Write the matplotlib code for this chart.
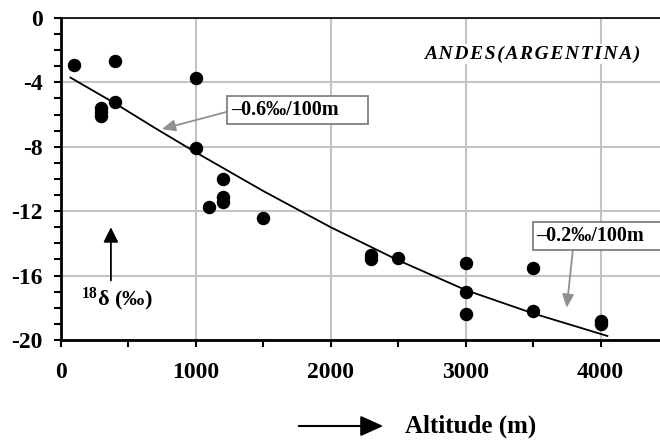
import matplotlib
matplotlib.use('Agg')
import matplotlib.pyplot as plt
from matplotlib.ticker import MultipleLocator
from matplotlib.patches import FancyArrowPatch, Rectangle

# measured samples
altitude = [100, 300, 300, 300, 400, 400, 1000, 1000, 1100, 1200, 1200, 1200,
            1500, 2300, 2300, 2500, 3000, 3000, 3000, 3500, 3500, 4000, 4000]
delta18 = [-2.9, -5.6, -5.85, -6.1, -2.7, -5.2, -3.7, -8.1, -11.75, -10.0, -11.1, -11.4,
           -12.4, -14.7, -15.0, -14.9, -15.2, -17.0, -18.4, -15.5, -18.2, -18.8, -19.0]

# trend curve
trend_x = [70, 400, 700, 1000, 1500, 2000, 2500, 3000, 3500, 4050]
trend_y = [-3.7, -5.3, -6.85, -8.35, -10.75, -13.0, -15.05, -16.9, -18.35, -19.75]

xticks = [0, 1000, 2000, 3000, 4000]
yticks = [0, -4, -8, -12, -16, -20]

plt.rcParams['font.family'] = 'Liberation Serif'
plt.rcParams['font.weight'] = 'bold'
plt.rcParams['axes.unicode_minus'] = False
plt.rcParams['mathtext.fontset'] = 'custom'
plt.rcParams['mathtext.rm'] = 'Liberation Serif:bold'
plt.rcParams['mathtext.default'] = 'rm'

fig = plt.figure(figsize=(6.6, 4.4), dpi=100)
ax = fig.add_axes([0.0924, 0.2273, 0.9076, 0.7318])

ax.set_xlim(0, 4440)
ax.set_ylim(-20, 0)
ax.set_xticks(xticks)
ax.set_yticks(yticks)
ax.xaxis.set_minor_locator(MultipleLocator(500))
ax.yaxis.set_minor_locator(MultipleLocator(1))
ax.tick_params(which='both', direction='out', length=5, width=1.5, color='black')
ax.tick_params(axis='y', which='major', labelsize=17, pad=8)
ax.tick_params(axis='x', which='major', labelsize=17, pad=11)
for lab in ax.get_xticklabels() + ax.get_yticklabels():
    lab.set_fontweight('bold')

ax.grid(True, which='major', color='#c4c4c4', lw=1.5)
ax.set_axisbelow(True)
ax.spines['right'].set_visible(False)
ax.spines['left'].set_linewidth(2)
ax.spines['bottom'].set_linewidth(2)
ax.spines['top'].set_linewidth(1.2)

ax.plot(trend_x, trend_y, color='black', lw=1.3, zorder=3)
ax.scatter(altitude, delta18, s=75, color='black', zorder=4)

title = '\u200a'.join('ANDES(ARGENTINA)')
ax.text(3496, -2.24, title, fontsize=14, style='italic', fontweight='bold',
        ha='center', va='center', bbox=dict(facecolor='white', edgecolor='none', pad=1))

# gradient label boxes
ax.add_patch(Rectangle((1230, -6.58), 1044, 1.74, facecolor='white', edgecolor='#808080', lw=1.3, zorder=5))
ax.text(1260, -5.72, '\u20130.6\u2030/100m', fontsize=14.5, fontweight='bold', ha='left', va='center', zorder=6)
ax.annotate('', xy=(748, -6.9), xytext=(1220, -5.85),
            arrowprops=dict(arrowstyle='-|>,head_length=0.8,head_width=0.35', color='#909090', lw=1.3,
                            shrinkA=0, shrinkB=0))

ax.add_patch(Rectangle((3496, -14.41), 1100, 1.74, facecolor='white', edgecolor='#808080', lw=1.3, zorder=5))
ax.text(3522, -13.55, '\u20130.2\u2030/100m', fontsize=14.5, fontweight='bold', ha='left', va='center', zorder=6)
ax.annotate('', xy=(3748, -18.0), xytext=(3793, -14.5),
            arrowprops=dict(arrowstyle='-|>,head_length=0.8,head_width=0.35', color='#909090', lw=1.3,
                            shrinkA=0, shrinkB=0))

# y axis label arrow
ax.annotate('', xy=(370, -13.0), xytext=(370, -16.3),
            arrowprops=dict(arrowstyle='-|>,head_length=0.9,head_width=0.45', color='black', lw=1.3,
                            shrinkA=0, shrinkB=0))
ax.text(415, -17.5, '$^{18}$\u03b4 (\u2030)', fontsize=16, fontweight='bold', ha='center', va='center')

# x axis label arrow
fig.patches.append(FancyArrowPatch((296 / 660, 1 - 426 / 440), (386 / 660, 1 - 426 / 440),
                   transform=fig.transFigure, arrowstyle='-|>,head_length=1.0,head_width=0.45',
                   color='black', lw=1.5, mutation_scale=14))
fig.text(405 / 660, 1 - 426 / 440, 'Altitude (m)', fontsize=18, fontweight='bold', ha='left', va='center')

fig.savefig('out.png', dpi=100)
